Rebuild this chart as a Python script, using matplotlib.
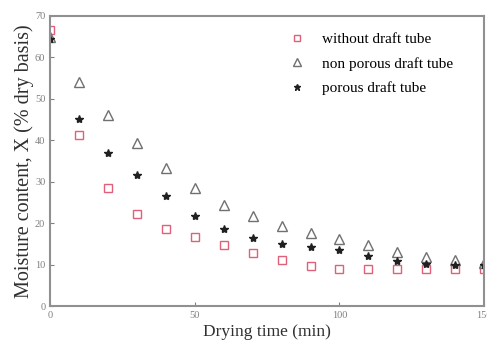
import numpy as np
import matplotlib.pyplot as plt

# datos
t = [0, 10, 20, 30, 40, 50, 60, 70, 80, 90, 100, 110, 120, 130, 140, 150]
sin_tubo = [66.7, 41.2, 28.4, 22.1, 18.6, 16.6, 14.7, 12.7, 11.0, 9.6, 9.0, 9.0, 9.0, 9.0, 9.0, 9.0]
no_poroso = [65.0, 54.0, 46.1, 39.4, 33.3, 28.4, 24.3, 21.6, 19.4, 17.7, 16.2, 14.7, 13.1, 11.9, 11.2, 10.4]
poroso = [64.3, 45.2, 37.0, 31.6, 26.5, 21.8, 18.5, 16.3, 15.0, 14.3, 13.5, 12.1, 10.8, 10.1, 10.0, 9.8]

plt.rcParams['font.family'] = ['Liberation Serif', 'DejaVu Serif']

fig = plt.figure(figsize=(4.87, 3.45), dpi=100)
ax = fig.add_axes([0.103, 0.113, 0.891, 0.841])

ax.plot(t, sin_tubo, 's', mfc='none', mec='#e0607a', ms=6, mew=1.0, label='without draft tube')
ax.plot(t, no_poroso, '^', mfc='none', mec='#707070', ms=7, mew=1.0, label='non porous draft tube')
ax.plot(t, poroso, '*', color='#202020', ms=6, label='porous draft tube')

ax.set_xlim(0, 150)
ax.set_ylim(0, 70)
ax.set_xticks([0, 50, 100, 150])
ax.set_yticks(np.arange(0, 71, 10))
ax.tick_params(direction='in', labelsize=7.5, colors='#808080', length=3)
for s in ax.spines.values():
    s.set_color('#909090')
    s.set_linewidth(1.5)

ax.set_xlabel('Drying time (min)', fontsize=12.5, color='#303030', labelpad=3)
ax.set_ylabel('Moisture content, X (% dry basis)', fontsize=14.5, color='#303030', labelpad=1)

ax.legend(loc='upper right', bbox_to_anchor=(0.96, 0.99), frameon=False, fontsize=11,
          handletextpad=0.6, labelspacing=0.7, markerscale=0.75)

plt.savefig('out.png')
